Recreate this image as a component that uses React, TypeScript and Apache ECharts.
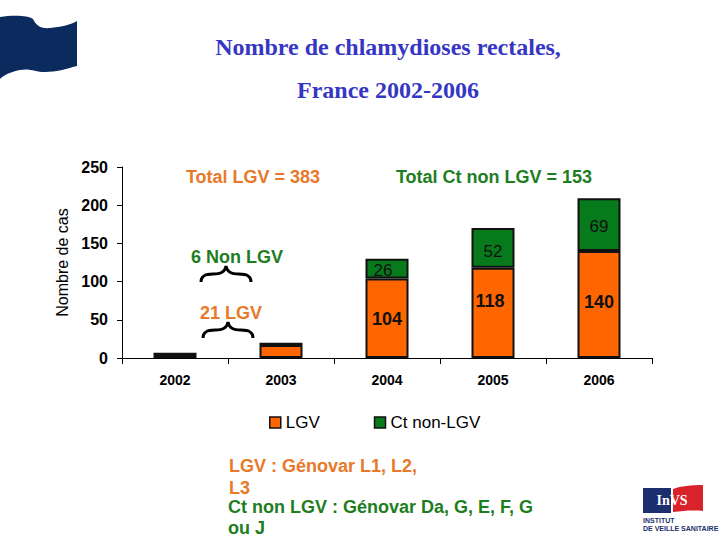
import React, { useEffect, useRef } from "react";
import * as echarts from "echarts";

const years = ["2002", "2003", "2004", "2005", "2006"];
const lgv = [4, 17, 104, 118, 140];
const nonLgv = [3, 3, 26, 52, 69];
const seriesNames = ["LGV", "Ct non-LGV"];
const yMax = 250;
const yInterval = 50;

const ORANGE = "#FF6600";
const GREEN = "#077A1C";
const ORANGE_TXT = "#E8782A";
const GREEN_TXT = "#1E7D1E";

const lgvLabelOffsets = [[0, 0], [0, 0], [0, 1], [-3, -12], [0, -3]];
const nonLabelOffsets = [[0, 0], [0, 0], [-4, 2], [0, 4], [0, 2]];

const FLAG_D =
  "M0,16 C12,14 28,14 33,18 C36,24 40,28 50,27 C60,26 70,24 77,20 L77,65 C66,68 56,71 45,71 C35,71 30,67 20,69 C10,71 4,74 0,78 Z";
const BRACE_D =
  "M0,16 C0,10 4,8 12,8 C20,8 24,6 25,0 C26,6 30,8 38,8 C46,8 50,10 50,16";
const INVS_RED_D = "M0,4 C8,1 18,0 30,0 L30,26 C20,25 10,26 0,27 Z";

let registered = false;
function registerShapes() {
  if (registered) return;
  registered = true;
  echarts.graphic.registerShape("flag", echarts.graphic.extendPath(FLAG_D, {}));
  echarts.graphic.registerShape("brace", echarts.graphic.extendPath(BRACE_D, {}));
  echarts.graphic.registerShape("invsred", echarts.graphic.extendPath(INVS_RED_D, {}));
}

export default function App() {
  const ref = useRef<HTMLDivElement>(null);
  useEffect(() => {
    document.body.style.margin = "0";
    registerShapes();
    const chart = echarts.init(ref.current!, null, { renderer: "svg" });
    const font = "Arial, 'Liberation Sans', sans-serif";
    const bold18 = "bold 18px Arial, 'Liberation Sans', sans-serif";
    const option = {
      animation: false,
      backgroundColor: "#ffffff",
      textStyle: { fontFamily: font },
      grid: { left: 122, right: 68, top: 167, bottom: 182 },
      legend: {
        left: 264,
        top: 409,
        itemWidth: 11,
        itemHeight: 11,
        itemGap: 54,
        icon: "rect",
        data: seriesNames,
        itemStyle: { borderColor: "#111", borderWidth: 1.5 },
        textStyle: { fontSize: 17, color: "#000", fontFamily: font },
      },
      xAxis: {
        type: "category",
        data: years,
        axisLine: { lineStyle: { color: "#000", width: 1 } },
        axisTick: { show: true, length: 6, alignWithLabel: false, lineStyle: { color: "#000" } },
        axisLabel: { fontSize: 14, fontWeight: "bold", color: "#000", margin: 15, fontFamily: font },
      },
      yAxis: {
        type: "value",
        min: 0,
        max: yMax,
        interval: yInterval,
        name: "Nombre de cas",
        nameLocation: "middle",
        nameGap: 50,
        nameTextStyle: { fontSize: 16, color: "#000", fontFamily: font },
        axisLine: { show: true, lineStyle: { color: "#000", width: 1 } },
        axisTick: { show: true, length: 5, lineStyle: { color: "#000" } },
        axisLabel: { fontSize: 16, fontWeight: "bold", color: "#000", margin: 14, fontFamily: font },
        splitLine: { show: false },
      },
      series: [
        {
          name: seriesNames[0],
          type: "bar",
          stack: "total",
          barWidth: 43,
          itemStyle: { color: ORANGE, borderColor: "#111", borderWidth: 2 },
          label: {
            show: true,
            position: "inside",
            fontSize: 18,
            fontWeight: "bold",
            color: "#111",
            fontFamily: font,
          },
          data: lgv.map((v, i) => ({
            value: v,
            label: { show: i >= 2, offset: lgvLabelOffsets[i] },
          })),
        },
        {
          name: seriesNames[1],
          type: "bar",
          stack: "total",
          barWidth: 43,
          itemStyle: { color: GREEN, borderColor: "#111", borderWidth: 2 },
          label: {
            show: true,
            position: "inside",
            fontSize: 17,
            color: "#111",
            fontFamily: font,
          },
          data: nonLgv.map((v, i) => ({
            value: v,
            label: { show: i >= 2, offset: nonLabelOffsets[i] },
          })),
        },
      ],
      graphic: [
        { type: "flag", x: 0, y: 1, style: { fill: "#0B2A5E" } },
        {
          type: "text",
          x: 388,
          y: 47,
          style: {
            text: "Nombre de chlamydioses rectales,",
            fill: "#3636C4",
            font: "bold 24px 'Liberation Serif', 'DejaVu Serif', serif",
            textAlign: "center",
            textVerticalAlign: "middle",
          },
        },
        {
          type: "text",
          x: 388,
          y: 90,
          style: {
            text: "France 2002-2006",
            fill: "#3636C4",
            font: "bold 24px 'Liberation Serif', 'DejaVu Serif', serif",
            textAlign: "center",
            textVerticalAlign: "middle",
          },
        },
        {
          type: "text",
          x: 253,
          y: 177,
          style: { text: "Total LGV = 383", fill: ORANGE_TXT, font: bold18, textAlign: "center", textVerticalAlign: "middle" },
        },
        {
          type: "text",
          x: 494,
          y: 177,
          style: { text: "Total Ct non LGV = 153", fill: GREEN_TXT, font: bold18, textAlign: "center", textVerticalAlign: "middle" },
        },
        {
          type: "text",
          x: 237,
          y: 257,
          style: { text: "6 Non LGV", fill: GREEN_TXT, font: bold18, textAlign: "center", textVerticalAlign: "middle" },
        },
        { type: "brace", x: 201, y: 266, style: { fill: "none", stroke: "#000", lineWidth: 3 } },
        {
          type: "text",
          x: 231,
          y: 313,
          style: { text: "21 LGV", fill: ORANGE_TXT, font: bold18, textAlign: "center", textVerticalAlign: "middle" },
        },
        { type: "brace", x: 203, y: 322, style: { fill: "none", stroke: "#000", lineWidth: 3 } },
        {
          type: "text",
          x: 229,
          y: 466,
          style: { text: "LGV : Génovar L1, L2,", fill: ORANGE_TXT, font: bold18, textVerticalAlign: "middle" },
        },
        {
          type: "text",
          x: 229,
          y: 488,
          style: { text: "L3", fill: ORANGE_TXT, font: bold18, textVerticalAlign: "middle" },
        },
        {
          type: "text",
          x: 228,
          y: 507,
          style: { text: "Ct non LGV : Génovar Da, G, E, F, G", fill: GREEN_TXT, font: bold18, textVerticalAlign: "middle" },
        },
        {
          type: "text",
          x: 228,
          y: 528,
          style: { text: "ou J", fill: GREEN_TXT, font: bold18, textVerticalAlign: "middle" },
        },
        { type: "rect", shape: { x: 643, y: 488, width: 28, height: 25 }, style: { fill: "#1B2F6E" } },
        { type: "invsred", x: 673, y: 485, style: { fill: "#D8232A" } },
        {
          type: "text",
          x: 672,
          y: 500,
          style: {
            text: "InVS",
            fill: "#ffffff",
            font: "bold 14px 'Liberation Serif', serif",
            textAlign: "center",
            textVerticalAlign: "middle",
          },
        },
        {
          type: "text",
          x: 643,
          y: 520,
          style: { text: "INSTITUT", fill: "#1B2F6E", font: "bold 7px Arial, sans-serif", textVerticalAlign: "middle" },
        },
        {
          type: "text",
          x: 643,
          y: 528,
          style: {
            text: "DE VEILLE SANITAIRE",
            fill: "#1B2F6E",
            font: "bold 7px Arial, sans-serif",
            textVerticalAlign: "middle",
          },
        },
      ],
    };
    chart.setOption(option as any);
    return () => chart.dispose();
  }, []);
  return <div ref={ref} style={{ width: 720, height: 540 }} />;
}
